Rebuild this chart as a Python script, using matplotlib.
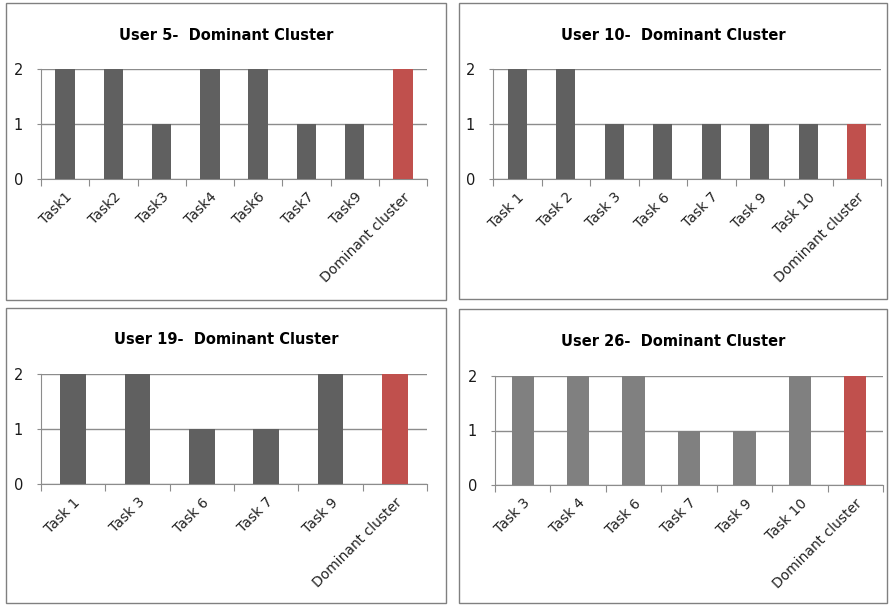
import matplotlib.pyplot as plt
from matplotlib.patches import Rectangle

W, H = 890, 605

titles = ["User 5-  Dominant Cluster", "User 10-  Dominant Cluster",
          "User 19-  Dominant Cluster", "User 26-  Dominant Cluster"]

labels_u5 = ["Task1", "Task2", "Task3", "Task4", "Task6", "Task7", "Task9", "Dominant cluster"]
values_u5 = [2, 2, 1, 2, 2, 1, 1, 2]

labels_u10 = ["Task 1", "Task 2", "Task 3", "Task 6", "Task 7", "Task 9", "Task 10", "Dominant cluster"]
values_u10 = [2, 2, 1, 1, 1, 1, 1, 1]

labels_u19 = ["Task 1", "Task 3", "Task 6", "Task 7", "Task 9", "Dominant cluster"]
values_u19 = [2, 2, 1, 1, 2, 2]

labels_u26 = ["Task 3", "Task 4", "Task 6", "Task 7", "Task 9", "Task 10", "Dominant cluster"]
values_u26 = [2, 2, 2, 1, 1, 2, 2]

# panel box (x0, y0, x1, y1) and plot area (x0, ytop, x1, ybottom), pixels from top-left
panels = [
    ((6, 3, 446, 300), (41, 69, 427, 179), "#606060"),
    ((459, 3, 887, 299), (493, 69, 881, 179), "#606060"),
    ((6, 308, 446, 603), (41, 374, 427, 484), "#606060"),
    ((459, 309, 887, 603), (495, 376, 883, 485), "#808080"),
]
data = [(labels_u5, values_u5), (labels_u10, values_u10),
        (labels_u19, values_u19), (labels_u26, values_u26)]

plt.rcParams["font.family"] = "DejaVu Sans"
fig = plt.figure(figsize=(W / 100, H / 100), dpi=100)


def to_fig(x0, y0, x1, y1):
    return [x0 / W, 1 - y1 / H, (x1 - x0) / W, (y1 - y0) / H]


for (box, area, bar_color), (labels, values), title in zip(panels, data, titles):
    bx = to_fig(*box)
    fig.add_artist(Rectangle((bx[0], bx[1]), bx[2], bx[3], transform=fig.transFigure,
                             fill=False, edgecolor="#808080", linewidth=1.0))

    ax = fig.add_axes(to_fig(*area))
    n = len(labels)
    colors = [bar_color] * (n - 1) + ["#C0504D"]
    ax.bar(range(n), values, width=0.4, color=colors, zorder=3)
    ax.set_xlim(-0.5, n - 0.5)
    ax.set_ylim(0, 2)
    ax.set_yticks([0, 1, 2])
    ax.yaxis.grid(True, color="#8c8c8c", linewidth=1.0, zorder=0)

    ax.set_xticks([i - 0.5 for i in range(n + 1)], minor=False)
    ax.set_xticklabels([])
    ax.set_xticks(range(n), minor=True)
    ax.set_xticklabels(labels, minor=True, rotation=45, ha="right",
                       rotation_mode="anchor", fontsize=10, color="#222222")
    ax.tick_params(axis="x", which="major", length=5, color="#8c8c8c", direction="out")
    ax.tick_params(axis="x", which="minor", length=0, pad=8)
    ax.tick_params(axis="y", length=3, color="#8c8c8c", labelsize=10.5,
                   labelcolor="#1a1a1a", pad=10)

    for s in ["top", "right"]:
        ax.spines[s].set_visible(False)
    for s in ["left", "bottom"]:
        ax.spines[s].set_color("#8c8c8c")

    cx = (box[0] + box[2]) / 2 / W
    ty = 1 - (box[1] + 32) / H
    fig.text(cx, ty, title, ha="center", va="center", fontsize=10.5, fontweight="bold")

fig.savefig("out.png", dpi=100)
